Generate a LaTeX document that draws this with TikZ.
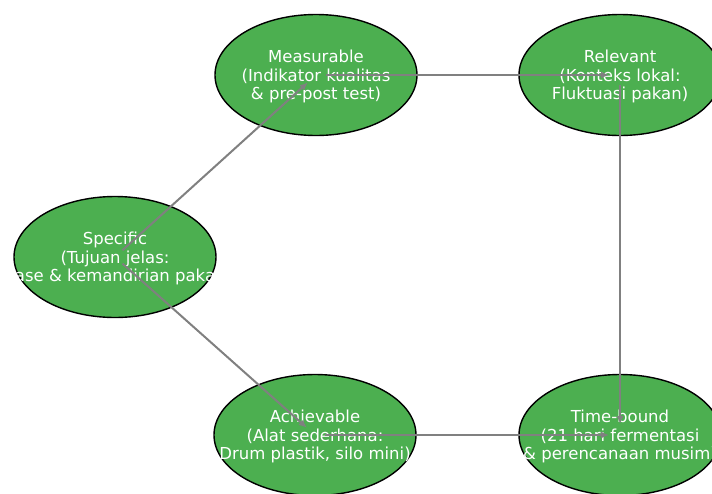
\documentclass[tikz,border=0pt]{standalone}
\usepackage{fontspec}
\setmainfont{DejaVu Sans}
\usetikzlibrary{shapes.geometric,arrows.meta}
\definecolor{nodegreen}{HTML}{4CAF50}
\definecolor{edgegray}{HTML}{808080}
\begin{document}
\begin{tikzpicture}[x=1pt,y=-1pt,
  goal/.style={ellipse,draw=black,line width=1.4pt,fill=nodegreen,
    minimum width=202pt,minimum height=121pt,inner sep=0pt},
  lbl/.style={text=white,align=center,inner sep=0pt,yshift=-1.5pt,
    font=\fontsize{16.5}{18.5}\selectfont},
  link/.style={draw=edgegray,line width=2pt,
    -{Latex[length=8pt,width=7pt]},shorten >=11pt,shorten <=10pt}]
\useasboundingbox (0,0) rectangle (712,493);
\clip (0,0) rectangle (712,493);
% ellipses
\node[goal] (S) at (115,257) {};
\node[goal] (M) at (316,75) {};
\node[goal] (R) at (620,75) {};
\node[goal] (A) at (315,435) {};
\node[goal] (T) at (620,435) {};
% labels
\node[lbl] (Sl) at (S.center) {Specific\\(Tujuan jelas:\\ase \& kemandirian paka};
\node[lbl] (Ml) at (M.center) {Measurable\\(Indikator kualitas\\\& pre-post test)};
\node[lbl] (Rl) at (R.center) {Relevant\\(Konteks lokal:\\Fluktuasi pakan)};
\node[lbl] (Al) at (A.center) {Achievable\\(Alat sederhana:\\Drum plastik, silo mini)};
\node[lbl] (Tl) at (T.center) {Time-bound\\(21 hari fermentasi\\\& perencanaan musim)};
% connectors
\draw[link] (S.center) -- (M.center);
\draw[link] (M.center) -- (R.center);
\draw[link] (R.center) -- (T.center);
\draw[link] (S.center) -- (A.center);
\draw[link] (A.center) -- (T.center);
\end{tikzpicture}
\end{document}
